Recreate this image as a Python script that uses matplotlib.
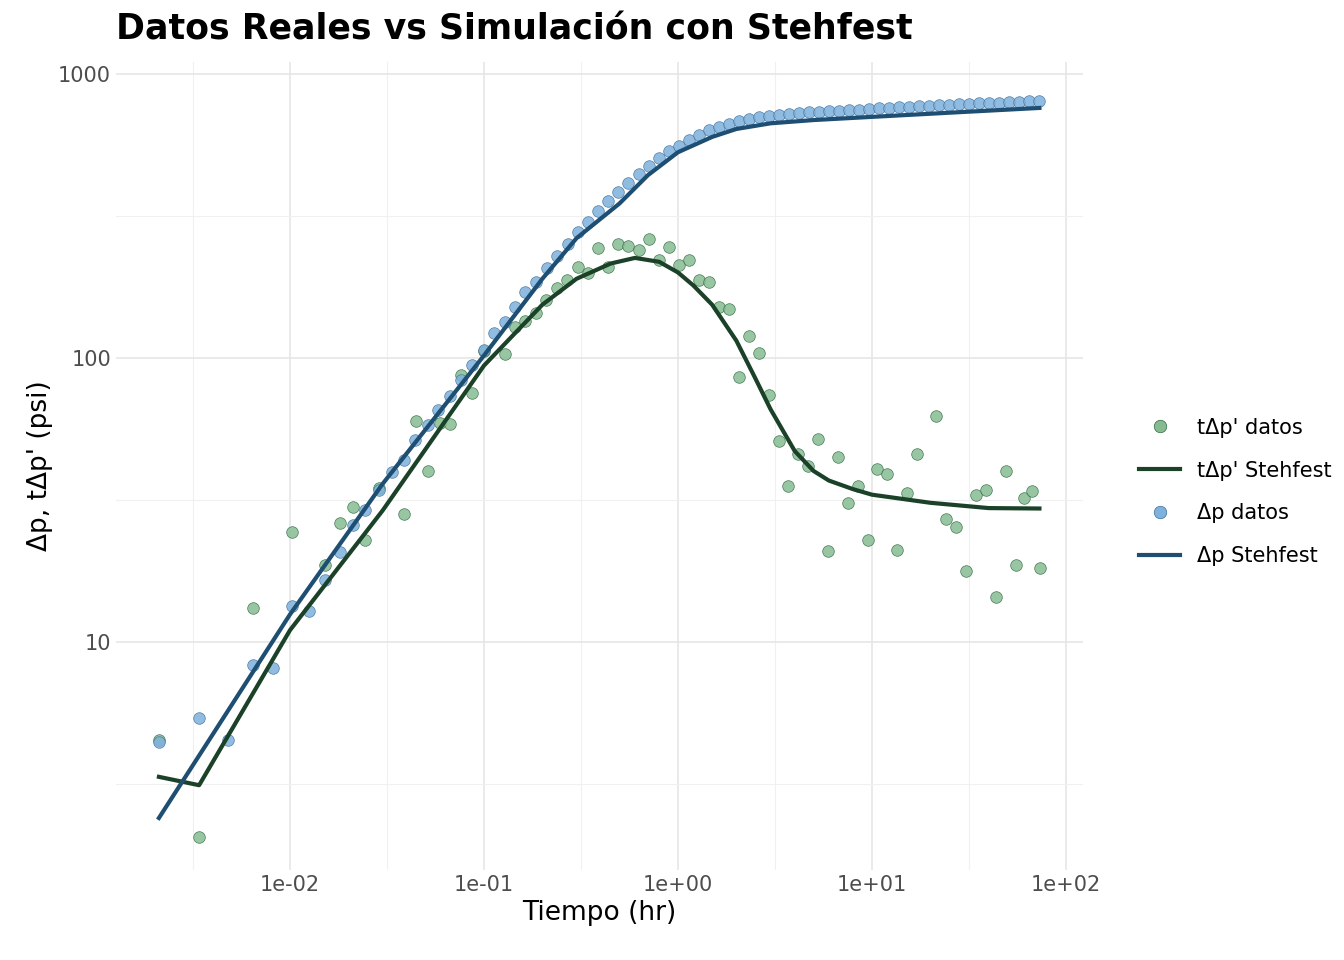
import numpy as np
import matplotlib
matplotlib.use("Agg")
import matplotlib.pyplot as plt
from matplotlib.lines import Line2D

t_dp = [.00211,.0034,.00481,.00645,.0082,.0102,.0125,.0152,.0182,.0210,.0245,.0287,.0336,.0387,.0442,.0515,.0579,.0667,.0761,.0867,
        .100,.113,.128,.144,.163,.185,.211,.238,.271,.305,.344,.387,.436,.490,.552,.630,.709,.798,.899,1.01,1.14,1.28,1.44,1.63,1.83,
        2.06,2.32,2.61,2.94,3.31,3.73,4.20,4.73,5.33,6.00,6.75,7.60,8.56,9.64,10.9,12.2,13.8,15.5,17.5,19.7,22.1,24.9,28.1,31.6,35.6,
        40.1,45.1,50.8,57.3,64.5,72.6]
dp = [4.45,5.4,4.5,8.3,8.1,13.4,12.8,16.5,20.7,25.8,29.2,34.3,39.7,43.8,51.4,58,65.6,73.5,83.7,94.5,
      107,122,134,151,170,185,208,229,252,278,301,329,357,385,413,444,475,506,535,558,586,610,635,651,667,
      684,695,706,712,717,723,729,735,735,741,741,747,747,753,759,759,765,765,771,771,778,778,784,784,791,
      791,791,797,797,803,803]

t_der = [.00211,.0034,.00645,.0102,.0152,.0182,.0210,.0245,.0287,.0387,.0448,.0515,.0593,.0667,.0761,.0867,.100,.128,.144,.163,
         .185,.209,.238,.268,.305,.344,.387,.436,.490,.552,.630,.709,.798,.899,1.01,1.14,1.28,1.44,1.63,1.83,2.06,2.32,2.61,2.94,
         3.31,3.69,4.15,4.67,5.26,5.93,6.68,7.52,8.47,9.54,10.6,11.9,13.5,15.1,17.0,21.3,24.0,27.0,30.4,34.2,38.6,43.4,48.9,55.0,60.6,66.5,73.6]
der = [4.5,2.06,13.2,24.4,18.7,26.2,29.9,22.8,34.8,28.2,60,40,59,58.6,87,75.3,106,103,129,135,
       144,160,176,188,209,199,244,209,252,248,240,262,221,246,212,221,188,185,151,149,86,119,104,74,
       51,35.4,46,41.7,51.9,20.9,44.8,30.8,35.4,22.9,40.7,39,21.1,33.5,45.9,62.5,27.1,25.4,17.8,33,34.3,14.4,40,18.7,32.1,34,18.2]

t_sim_dp = [.00211,.01,.03,.1,.2,.3,.5,.7,1,1.5,2,3,5,10,30,73]
sim_dp = [2.4,12.5,36,102,190,264,350,440,530,600,640,670,688,706,735,759]
t_sim_der = [.00211,.0034,.01,.03,.1,.2,.3,.45,.6,.8,1,1.2,1.5,2,2.5,3,4,5,6,8,10,20,40,73]
sim_der = [3.35,3.13,11,29,94,154,190,215,225,218,200,180,154,115,85,66,47,40,37,34.5,33,30.9,29.6,29.5]

gfill, gline = "#86bb92", "#1b4229"
bfill, bline = "#7eb1dc", "#1f4e73"

fig = plt.figure(figsize=(13.44, 9.6), dpi=100)
ax = fig.add_axes([116/1344, 90/960, (1083-116)/1344, (870-62)/960])
ax.set_xscale("log"); ax.set_yscale("log")
ax.set_xlim(10**-2.897, 10**2.088)
ax.set_ylim(10**0.197, 10**3.042)
for s in ax.spines.values(): s.set_visible(False)
ax.tick_params(length=0, labelsize=15, colors="#4d4d4d")
ax.set_xticks([1e-2,1e-1,1,10,100]); ax.set_xticklabels(["1e-02","1e-01","1e+00","1e+01","1e+02"])
ax.set_yticks([10,100,1000]); ax.set_yticklabels(["10","100","1000"])
ax.set_xticks([10**k for k in [-2.5,-1.5,-0.5,0.5,1.5]], minor=True)
ax.set_yticks([10**0.5,10**1.5,10**2.5], minor=True)
ax.tick_params(which="minor", length=0)
ax.xaxis.set_minor_formatter(matplotlib.ticker.NullFormatter())
ax.yaxis.set_minor_formatter(matplotlib.ticker.NullFormatter())
ax.grid(which="major", color="#e6e6e6", lw=1.2)
ax.grid(which="minor", color="#f0f0f0", lw=0.8)
ax.set_axisbelow(True)

ax.scatter(t_der, der, s=70, c=gfill, edgecolors="#2f6b40", linewidths=0.5, alpha=0.85, zorder=2)
ax.plot(t_sim_der, sim_der, color=gline, lw=3, zorder=3)
ax.scatter(t_dp, dp, s=70, c=bfill, edgecolors="#3d6f99", linewidths=0.5, alpha=0.85, zorder=2)
ax.plot(t_sim_dp, sim_dp, color=bline, lw=3, zorder=3)

ax.set_xlabel("Tiempo (hr)", fontsize=19)
ax.set_ylabel("Δp, tΔp' (psi)", fontsize=19)
fig.text(116/1344, 1-30/960, "Datos Reales vs Simulación con Stehfest", fontsize=25, fontweight="bold", va="center")

handles = [Line2D([], [], ls="", marker="o", ms=9, mfc=gfill, mec="#2f6b40", mew=0.5),
           Line2D([], [], color=gline, lw=3),
           Line2D([], [], ls="", marker="o", ms=9, mfc=bfill, mec="#3d6f99", mew=0.5),
           Line2D([], [], color=bline, lw=3)]
fig.legend(handles, ["tΔp' datos", "tΔp' Stehfest", "Δp datos", "Δp Stehfest"],
           loc="center left", bbox_to_anchor=(1120/1344, 1-492/960), frameon=False,
           fontsize=15, labelspacing=1.1, handlelength=2)
fig.savefig("out.png", dpi=100)
